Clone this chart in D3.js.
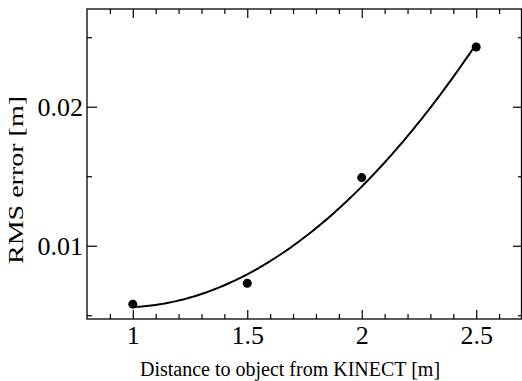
<!DOCTYPE html>
<html>
<head>
<meta charset="utf-8">
<script src="https://cdn.jsdelivr.net/npm/d3@7"></script>
<style>
  html, body { margin: 0; padding: 0; background: #fff; }
  svg { display: block; }
  text { font-family: "Liberation Serif", "Times New Roman", serif; fill: #000; }
</style>
</head>
<body>
<div id="chart"></div>
<script>
// measured RMS error per distance
const distances = [1, 1.5, 2, 2.5];
const rmsErrors = [0.0058, 0.0073, 0.0149, 0.0243];

const xMajorTicks = [1, 1.5, 2, 2.5];
const xTickLabels = ['1', '1.5', '2', '2.5'];
const yMajorTicks = [0.01, 0.02];
const yTickLabels = ['0.01', '0.02'];

const width = 522, height = 381;
const margin = { top: 9, right: 0, bottom: 62, left: 87 };

const svg = d3.select('#chart').append('svg').attr('width', width).attr('height', height);
const innerW = width - margin.left - margin.right;
const innerH = height - margin.top - margin.bottom;
const g = svg.append('g').attr('transform', `translate(${margin.left},${margin.top})`);

const x = d3.scaleLinear().domain([0.8, 2.7]).range([0, innerW]);
const y = d3.scaleLinear().domain([0.00473, 0.02703]).range([innerH, 0]);

// least squares quadratic fit of the points
const fit = (() => {
  let s = [0, 0, 0, 0, 0], t = [0, 0, 0];
  distances.forEach((xi, i) => {
    for (let k = 0; k < 5; k++) s[k] += Math.pow(xi, k);
    for (let k = 0; k < 3; k++) t[k] += Math.pow(xi, k) * rmsErrors[i];
  });
  const A = [[s[0], s[1], s[2], t[0]], [s[1], s[2], s[3], t[1]], [s[2], s[3], s[4], t[2]]];
  for (let c = 0; c < 3; c++) {
    for (let r = c + 1; r < 3; r++) {
      const f = A[r][c] / A[c][c];
      for (let k = c; k < 4; k++) A[r][k] -= f * A[c][k];
    }
  }
  const co = [0, 0, 0];
  for (let r = 2; r >= 0; r--) {
    let v = A[r][3];
    for (let k = r + 1; k < 3; k++) v -= A[r][k] * co[k];
    co[r] = v / A[r][r];
  }
  return xv => co[0] + co[1] * xv + co[2] * xv * xv;
})();

const tickFmtX = d => xTickLabels[xMajorTicks.indexOf(d)] || '';
const tickFmtY = d => yTickLabels[yMajorTicks.indexOf(d)] || '';
const xMinor = d3.range(9, 27).map(v => v / 10).filter(v => !xMajorTicks.some(m => Math.abs(m - v) < 1e-9));
const yMinor = [0.005, 0.015, 0.025];

const styleAxis = sel => {
  sel.select('.domain').remove();
  sel.selectAll('line').attr('stroke', '#000').attr('stroke-width', 1.2);
};

// bottom
g.append('g').attr('transform', `translate(0,${innerH})`)
  .call(d3.axisBottom(x).tickValues(xMajorTicks).tickSize(-9).tickFormat(tickFmtX))
  .call(styleAxis)
  .call(a => a.selectAll('text').attr('font-size', 26).attr('y', 25).attr('dy', null));
g.append('g').attr('transform', `translate(0,${innerH})`)
  .call(d3.axisBottom(x).tickValues(xMinor).tickSize(-5).tickFormat(''))
  .call(styleAxis);
// top
g.append('g')
  .call(d3.axisTop(x).tickValues(xMajorTicks).tickSize(-9).tickFormat(''))
  .call(styleAxis);
g.append('g')
  .call(d3.axisTop(x).tickValues(xMinor).tickSize(-5).tickFormat(''))
  .call(styleAxis);
// left
g.append('g')
  .call(d3.axisLeft(y).tickValues(yMajorTicks).tickSize(-10).tickFormat(tickFmtY))
  .call(styleAxis)
  .call(a => a.selectAll('text').attr('font-size', 26).attr('x', -4).attr('dy', '0.33em'));
g.append('g')
  .call(d3.axisLeft(y).tickValues(yMinor).tickSize(-5).tickFormat(''))
  .call(styleAxis);
// right
g.append('g').attr('transform', `translate(${innerW},0)`)
  .call(d3.axisRight(y).tickValues(yMajorTicks).tickSize(-9).tickFormat(''))
  .call(styleAxis);
g.append('g').attr('transform', `translate(${innerW},0)`)
  .call(d3.axisRight(y).tickValues(yMinor).tickSize(-4).tickFormat(''))
  .call(styleAxis);

// frame
g.append('rect').attr('x', 0).attr('y', 0).attr('width', innerW - 0.5).attr('height', innerH)
  .attr('fill', 'none').attr('stroke', '#000').attr('stroke-width', 1.3);

// fit curve
const curveX = d3.range(0, 151).map(i => distances[0] + (distances[distances.length - 1] - distances[0]) * i / 150);
const line = d3.line().x(d => x(d)).y(d => y(fit(d)));
g.append('path').datum(curveX).attr('fill', 'none').attr('stroke', '#000').attr('stroke-width', 2).attr('d', line);

// points
g.selectAll('circle.pt').data(distances).join('circle').attr('class', 'pt')
  .attr('cx', d => x(d)).attr('cy', (d, i) => y(rmsErrors[i])).attr('r', 4.5).attr('fill', '#000');

// titles
svg.append('text').attr('x', 290).attr('y', 376).attr('text-anchor', 'middle')
  .attr('font-size', 20).text('Distance to object from KINECT [m]');
svg.append('text').attr('transform', 'translate(23,180) rotate(-90)').attr('text-anchor', 'middle')
  .attr('font-size', 20).attr('textLength', 168).attr('lengthAdjust', 'spacingAndGlyphs')
  .text('RMS error [m]');
</script>
</body>
</html>
